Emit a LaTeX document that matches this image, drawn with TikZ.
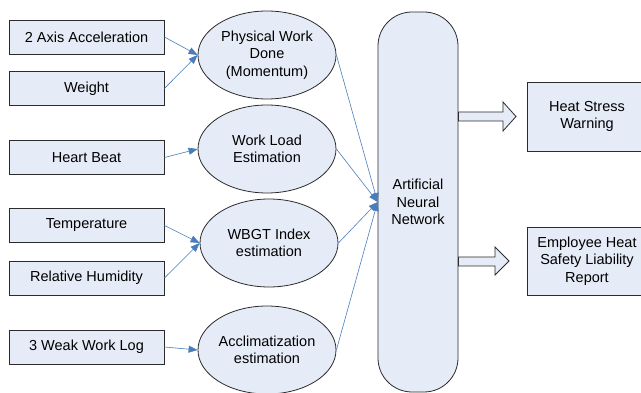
\documentclass[tikz,border=0pt]{standalone}
\usepackage{fontspec}
\setmainfont{Liberation Sans}
\usetikzlibrary{arrows.meta,shapes.geometric}
\definecolor{Pale}{HTML}{E6ECF7}
\definecolor{Edge}{HTML}{2B2B2B}
\definecolor{Wire}{HTML}{4A7EBB}
\begin{document}
\begin{tikzpicture}[x=1pt,y=-1pt,every node/.style={font=\fontsize{14.5}{17.5}\selectfont,text=black,align=center},box/.style={draw=Edge,fill=Pale,line width=0.8pt,minimum width=155pt,minimum height=34pt,inner sep=0pt},oval/.style={ellipse,draw=Edge,fill=Pale,line width=0.8pt,minimum width=138pt,minimum height=88pt,inner sep=0pt},wire/.style={draw=Wire,line width=0.6pt,-{Triangle[length=9pt,width=7pt]}},fat/.style={draw=Edge,fill=Pale,line width=0.8pt,line join=miter}]
\useasboundingbox (0,0) rectangle (641,393);\clip (0,0) rectangle (641,393);
\fill[white] (0,0) rectangle (641,393);

% inputs
\node[box] (accel) at (86.5,37) {2 Axis Acceleration};
\node[box] (weight) at (86.5,88.5) {Weight};
\node[box] (heart) at (86.5,157.5) {Heart Beat};
\node[box] (temp) at (86.5,225.5) {Temperature};
\node[box] (humid) at (86.5,278) {Relative Humidity};
\node[box] (worklog) at (86.5,347) {3 Weak Work Log};

% estimations
\node[oval] (phys) at (267,55) {Physical Work\\Done\\(Momentum)};
\node[oval] (load) at (267,149) {Work Load\\Estimation};
\node[oval] (wbgt) at (269,243) {WBGT Index\\estimation};
\node[oval] (acclim) at (267,350) {Acclimatization\\estimation};

% network and outputs
\node[draw=Edge,fill=Pale,line width=0.8pt,rounded corners=34pt,minimum width=80pt,minimum height=380pt,inner sep=0pt] (ann) at (418,202) {Artificial\\Neural\\Network};
\node[box,minimum width=120pt,minimum height=69pt] (warn) at (587,116.5) {Heat Stress\\Warning};
\node[box,minimum width=120pt,minimum height=68pt] (report) at (587,261) {Employee Heat\\Safety Liability\\Report};

\draw[wire] (accel.east)--(phys.west);\draw[wire] (weight.east)--(phys.west);
\draw[wire] (heart.east)--(load.west);
\draw[wire] (temp.east)--(wbgt.west);\draw[wire] (humid.east)--(wbgt.west);
\draw[wire] (worklog.east)--(acclim.west);
\foreach \e in {phys,load,wbgt,acclim} \draw[wire] (\e.east)--(ann.west);

\draw[fat] (ann.east |- 0,112)--(503,112)--(503,102)--(516,116.5)--(503,131)--(503,121)--(ann.east |- 0,121)--cycle;
\draw[fat] (ann.east |- 0,257)--(495,257)--(495,247)--(509,261)--(495,275)--(495,266)--(ann.east |- 0,266)--cycle;
\end{tikzpicture}
\end{document}
